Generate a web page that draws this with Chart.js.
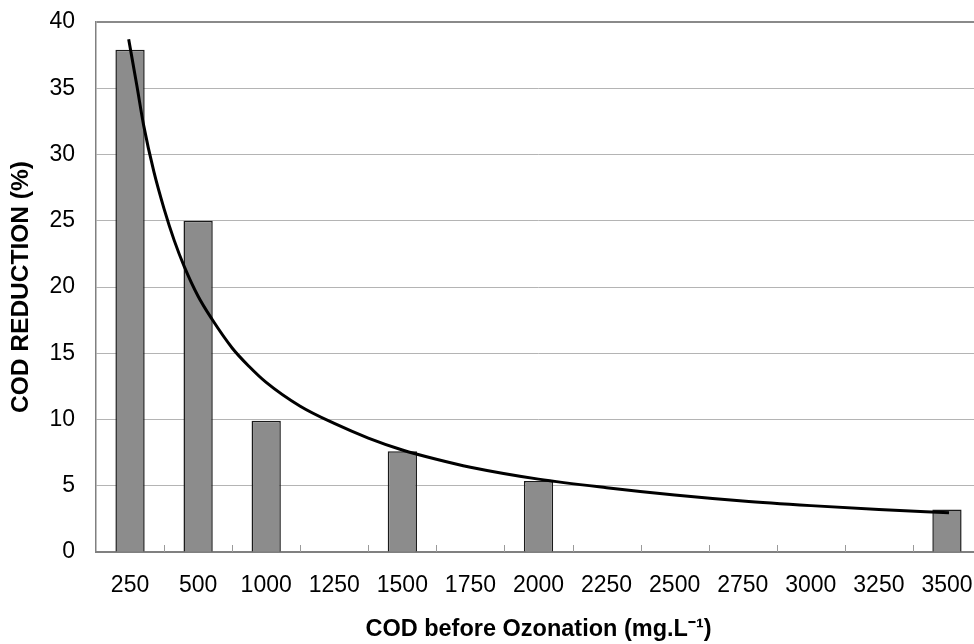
<!DOCTYPE html>
<html>
<head>
<meta charset="utf-8">
<script src="https://cdn.jsdelivr.net/npm/chart.js@4/dist/chart.umd.min.js"></script>
<style>
  html, body { margin: 0; padding: 0; background: #fff; overflow: hidden; }
  #wrap { width: 982px; height: 644px; position: relative; }
</style>
</head>
<body>
<div id="wrap"><canvas id="chart"></canvas></div>
<script>
// COD before ozonation (mg/L) categories
const codLabels = ['250', '500', '1000', '1250', '1500', '1750', '2000', '2250', '2500', '2750', '3000', '3250', '3500'];
// measured COD reduction (%), gaps where no bar
const codReduction = [37.9, 25.0, 9.9, null, 7.6, null, 5.35, null, null, null, null, null, 3.2];
// trend curve: position in category units, value in %
const trendPos = [-0.02, 0.1, 0.2, 0.35, 0.5, 0.65, 0.8, 1, 1.2, 1.5, 1.75, 2, 2.5, 3, 3.5, 4, 4.5, 5, 6, 7, 8, 9, 10, 11, 12.03];
const trendVal = [38.7, 35.2, 32.2, 28.7, 25.9, 23.5, 21.5, 19.3, 17.6, 15.4, 14.0, 12.8, 11.0, 9.7, 8.6, 7.7, 7.0, 6.4, 5.5, 4.85, 4.3, 3.85, 3.5, 3.2, 2.97];
const yTicks = [0, 5, 10, 15, 20, 25, 30, 35, 40];

const FONT = "'Liberation Sans', Arial, sans-serif";

// small upward tick marks between categories, like the original
const innerTicks = {
    id: 'innerTicks',
    beforeDatasetsDraw(chart) {
        const x = chart.scales.x;
        const ctx = chart.ctx;
        const bottom = chart.chartArea.bottom;
        ctx.save();
        ctx.strokeStyle = '#9a9a9a';
        ctx.lineWidth = 1;
        for (let i = 1; i < codLabels.length; i++) {
            const px = Math.round((x.getPixelForValue(i - 1) + x.getPixelForValue(i)) / 2) + 0.5;
            ctx.beginPath();
            ctx.moveTo(px, bottom);
            ctx.lineTo(px, bottom - 7);
            ctx.stroke();
        }
        ctx.restore();
    }
};

new Chart(document.getElementById('chart'), {
    type: 'bar',
    data: {
        labels: codLabels,
        datasets: [
            {
                type: 'line',
                data: trendPos.map((p, i) => ({ x: p, y: trendVal[i] })),
                xAxisID: 'xt',
                borderColor: '#000',
                borderWidth: 3,
                pointRadius: 0,
                cubicInterpolationMode: 'monotone',
                fill: false,
                order: 0
            },
            {
                type: 'bar',
                data: codReduction,
                backgroundColor: '#8c8c8c',
                borderColor: '#1a1a1a',
                borderWidth: 1.5,
                grouped: false,
                barPercentage: 0.43,
                categoryPercentage: 1,
                order: 1
            }
        ]
    },
    options: {
        responsive: true,
        maintainAspectRatio: false,
        animation: false,
        layout: { padding: { top: 22, right: 1, left: 0, bottom: 0 } },
        plugins: {
            legend: { display: false },
            tooltip: { enabled: false }
        },
        scales: {
            x: {
                type: 'category',
                offset: true,
                grid: { display: false, drawTicks: false },
                border: { display: true, color: '#808080', width: 2 },
                ticks: { color: '#000', font: { family: FONT, size: 23 }, padding: 20, maxRotation: 0, autoSkip: false },
                title: {
                    display: true,
                    text: 'COD before Ozonation (mg.L⁻¹)',
                    color: '#000',
                    font: { family: FONT, size: 23.5, weight: 'bold' },
                    padding: { top: 0, bottom: 0 }
                },
                afterFit(scale) {
                    scale.height = 92;
                    scale.paddingLeft = 0;
                    scale.paddingRight = 0;
                }
            },
            xt: {
                type: 'linear',
                display: false,
                offset: false,
                min: -0.5,
                max: 12.5
            },
            y: {
                min: 0,
                max: 40,
                afterBuildTicks(scale) { scale.ticks = yTicks.map(v => ({ value: v })); },
                grid: {
                    drawTicks: false,
                    color: ctx => ctx.tick && ctx.tick.value === 40 ? '#8a8a8a' : '#b4b4b4',
                    lineWidth: ctx => ctx.tick && ctx.tick.value === 40 ? 2 : 1
                },
                border: { display: true, color: '#808080', width: 1.5 },
                ticks: { color: '#000', font: { family: FONT, size: 23 }, padding: 21 },
                title: {
                    display: true,
                    text: 'COD REDUCTION (%)',
                    color: '#000',
                    font: { family: FONT, size: 24.5, weight: 'bold' },
                    padding: { top: 7, bottom: 0 }
                },
                afterFit(scale) {
                    scale.width = 96;
                    scale.paddingTop = 0;
                    scale.paddingBottom = 0;
                }
            }
        }
    },
    plugins: [innerTicks]
});
</script>
</body>
</html>
